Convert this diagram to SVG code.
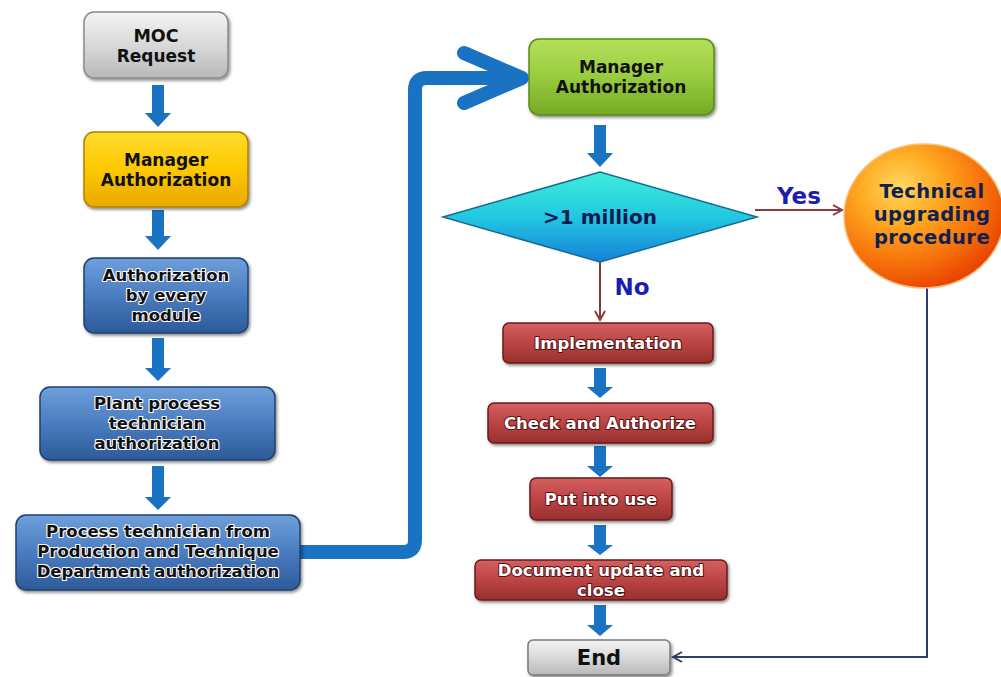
<svg xmlns="http://www.w3.org/2000/svg" width="1001" height="677" viewBox="0 0 1001 677">
<defs>
<linearGradient id="gGrey" x1="0" y1="0" x2="0" y2="1"><stop offset="0" stop-color="#f4f4f4"/><stop offset="0.5" stop-color="#d9d9d9"/><stop offset="1" stop-color="#b8b8b8"/></linearGradient>
<linearGradient id="gYellow" x1="0" y1="0" x2="0" y2="1"><stop offset="0" stop-color="#ffdc2e"/><stop offset="0.5" stop-color="#fcc800"/><stop offset="1" stop-color="#e9a800"/></linearGradient>
<linearGradient id="gBlue" x1="0" y1="0" x2="0" y2="1"><stop offset="0" stop-color="#6f9fdc"/><stop offset="0.5" stop-color="#4a7cc0"/><stop offset="1" stop-color="#2d5a98"/></linearGradient>
<linearGradient id="gGreen" x1="0" y1="0" x2="0" y2="1"><stop offset="0" stop-color="#b5e05a"/><stop offset="0.5" stop-color="#98cc3e"/><stop offset="1" stop-color="#74aa24"/></linearGradient>
<linearGradient id="gRed" x1="0" y1="0" x2="0" y2="1"><stop offset="0" stop-color="#d46060"/><stop offset="0.5" stop-color="#bc4444"/><stop offset="1" stop-color="#983030"/></linearGradient>
<linearGradient id="gDiamond" x1="0" y1="0" x2="0" y2="1"><stop offset="0" stop-color="#40ecdc"/><stop offset="0.5" stop-color="#22c8e0"/><stop offset="1" stop-color="#1580d8"/></linearGradient>
<radialGradient id="gOrange" cx="0.35" cy="0.3" r="0.75"><stop offset="0" stop-color="#ffd860"/><stop offset="0.35" stop-color="#ffa820"/><stop offset="0.75" stop-color="#f46a08"/><stop offset="1" stop-color="#e84000"/></radialGradient>
<filter id="sh" x="-10%" y="-10%" width="125%" height="130%"><feDropShadow dx="1.5" dy="2" stdDeviation="1.5" flood-color="#000" flood-opacity="0.45"/></filter>
<marker id="openBrown" markerWidth="14" markerHeight="14" refX="11" refY="7" orient="auto" markerUnits="userSpaceOnUse"><path d="M2,2 L11,7 L2,12" fill="none" stroke="#8b3a3a" stroke-width="2"/></marker>
<marker id="openNavy" markerWidth="14" markerHeight="14" refX="11" refY="7" orient="auto" markerUnits="userSpaceOnUse"><path d="M2,2 L11,7 L2,12" fill="none" stroke="#2c3e6b" stroke-width="2"/></marker>
</defs>
<style>
.t{font-family:"DejaVu Sans","Noto Sans",sans-serif;font-weight:bold;text-anchor:middle}
.dark{fill:#111}
.halo{fill:#111;stroke:#fff;stroke-width:2.2;paint-order:stroke;stroke-linejoin:round}
.wht{fill:#fff;stroke:#5a1010;stroke-width:2;paint-order:stroke;stroke-linejoin:round}
.box{filter:url(#sh)}
.blk{fill:#1a72c2}
.lbl{fill:#1c1cb0;font-size:23px}
</style>
<rect width="1001" height="677" fill="#fff"/>

<g id="connectors">
<path class="blk" d="M152,85 H164 V113 H171 L158,127 L145,113 H152 Z"/>
<path class="blk" d="M152,210 H164 V236 H171 L158,250 L145,236 H152 Z"/>
<path class="blk" d="M152,338 H164 V368 H171 L158,381 L145,368 H152 Z"/>
<path class="blk" d="M152,466 H164 V497 H171 L158,510 L145,497 H152 Z"/>
<path d="M300,552 H403 Q415,552 415,540 V90 Q415,78 427,78 H520" fill="none" stroke="#1a72c2" stroke-width="14"/>
<path d="M464,53 L522,78 L464,103" fill="none" stroke="#1a72c2" stroke-width="14" stroke-linecap="round" stroke-linejoin="round"/>
<path class="blk" d="M594,125 H606 V153 H613 L600,167 L587,153 H594 Z"/>
<path class="blk" d="M594,368 H606 V387 H613 L600,398 L587,387 H594 Z"/>
<path class="blk" d="M594,446 H606 V466 H613 L600,477 L587,466 H594 Z"/>
<path class="blk" d="M594,525 H606 V545 H613 L600,555 L587,545 H594 Z"/>
<path class="blk" d="M594,605 H606 V625 H613 L600,636 L587,625 H594 Z"/>
<line x1="600" y1="262" x2="600" y2="320" stroke="#8b3a3a" stroke-width="2" marker-end="url(#openBrown)"/>
<line x1="755" y1="210" x2="842" y2="210" stroke="#8b3a3a" stroke-width="2" marker-end="url(#openBrown)"/>
<path d="M927,287 V657 H673" fill="none" stroke="#2c3e6b" stroke-width="2" marker-end="url(#openNavy)"/>
<text class="t lbl" x="799" y="204">Yes</text>
<text class="t lbl" x="632" y="295">No</text>
</g>

<g id="moc-request">
<rect class="box" x="84" y="12" width="144" height="66" rx="10" fill="url(#gGrey)" stroke="#8a8a8a" stroke-width="1.5"/>
<text class="t dark" x="156" y="42" font-size="17.5">MOC</text>
<text class="t dark" x="156" y="62" font-size="17">Request</text>
</g>

<g id="manager-auth-1">
<rect class="box" x="84" y="132" width="164" height="75" rx="10" fill="url(#gYellow)" stroke="#b08000" stroke-width="1.5"/>
<text class="t dark" x="166" y="166" font-size="17">Manager</text>
<text class="t dark" x="166" y="186" font-size="17">Authorization</text>
</g>

<g id="auth-every-module">
<rect class="box" x="84" y="258" width="164" height="75" rx="10" fill="url(#gBlue)" stroke="#1f4070" stroke-width="1.5"/>
<text class="t halo" x="166" y="281" font-size="16.5">Authorization</text>
<text class="t halo" x="166" y="301" font-size="16.5">by every</text>
<text class="t halo" x="166" y="321" font-size="16.5">module</text>
</g>

<g id="plant-process">
<rect class="box" x="40" y="387" width="235" height="73" rx="10" fill="url(#gBlue)" stroke="#1f4070" stroke-width="1.5"/>
<text class="t halo" x="157" y="409" font-size="16.5">Plant process</text>
<text class="t halo" x="157" y="429" font-size="16.5">technician</text>
<text class="t halo" x="157" y="449" font-size="16.5">authorization</text>
</g>

<g id="process-technician">
<rect class="box" x="16" y="515" width="284" height="75" rx="10" fill="url(#gBlue)" stroke="#1f4070" stroke-width="1.5"/>
<text class="t halo" x="158" y="537" font-size="16.5">Process technician from</text>
<text class="t halo" x="158" y="557" font-size="16.5">Production and Technique</text>
<text class="t halo" x="158" y="577" font-size="16.5">Department authorization</text>
</g>

<g id="manager-auth-2">
<rect class="box" x="529" y="39" width="185" height="76" rx="10" fill="url(#gGreen)" stroke="#5a8a18" stroke-width="1.5"/>
<text class="t dark" x="621" y="73" font-size="17">Manager</text>
<text class="t dark" x="621" y="93" font-size="17">Authorization</text>
</g>

<g id="decision">
<polygon points="443,217 600,172 757,217 600,262" fill="url(#gDiamond)" stroke="#1a6a90" stroke-width="1.5"/>
<text class="t" x="600" y="224" font-size="20" fill="#0c1a50">&gt;1 million</text>
</g>

<g id="technical-upgrading">
<ellipse cx="924" cy="216" rx="80" ry="72" fill="url(#gOrange)" stroke="#f8c080" stroke-width="1.5"/>
<text class="t" x="932" y="198" font-size="19.5" letter-spacing="0.4" fill="#102050">Technical</text>
<text class="t" x="932" y="221" font-size="19.5" letter-spacing="0.4" fill="#102050">upgrading</text>
<text class="t" x="932" y="244" font-size="19.5" letter-spacing="0.4" fill="#102050">procedure</text>
</g>

<g id="implementation">
<rect class="box" x="503" y="323" width="210" height="40" rx="6" fill="url(#gRed)" stroke="#6a1a1a" stroke-width="1.5"/>
<text class="t wht" x="608" y="349" font-size="16.5">Implementation</text>
</g>

<g id="check-authorize">
<rect class="box" x="488" y="403" width="225" height="40" rx="6" fill="url(#gRed)" stroke="#6a1a1a" stroke-width="1.5"/>
<text class="t wht" x="600" y="429" font-size="16.5">Check and Authorize</text>
</g>

<g id="put-into-use">
<rect class="box" x="530" y="478" width="142" height="42" rx="6" fill="url(#gRed)" stroke="#6a1a1a" stroke-width="1.5"/>
<text class="t wht" x="601" y="505" font-size="16.5">Put into use</text>
</g>

<g id="document-update">
<rect class="box" x="475" y="560" width="252" height="40" rx="6" fill="url(#gRed)" stroke="#6a1a1a" stroke-width="1.5"/>
<text class="t wht" x="601" y="576" font-size="16.5">Document update and</text>
<text class="t wht" x="601" y="596" font-size="16.5">close</text>
</g>

<g id="end">
<rect class="box" x="528" y="640" width="142" height="35" rx="5" fill="url(#gGrey)" stroke="#7a7a7a" stroke-width="1.5"/>
<text class="t dark" x="599" y="665" font-size="21">End</text>
</g>
</svg>
